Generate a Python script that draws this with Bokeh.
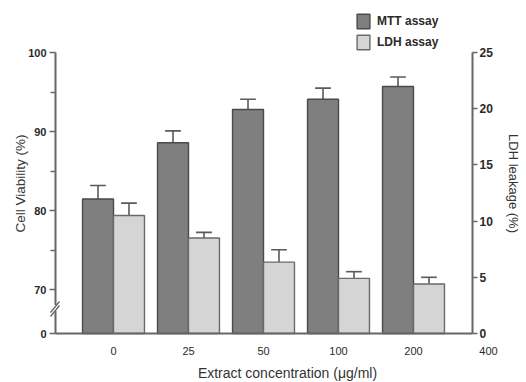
from bokeh.plotting import figure
from bokeh.models import (Range1d, LinearAxis, FixedTicker, Legend, LegendItem,
                          Label, Arrow, ColumnDataSource)
from bokeh.embed import file_html
from bokeh.resources import INLINE

# ---- data -------------------------------------------------------------
concentrations = ["0", "25", "50", "100", "200", "400"]   # x tick labels (µg/ml)
mtt_viability = [81.5, 88.6, 92.8, 94.1, 95.7]             # cell viability (%)
mtt_error = [1.7, 1.5, 1.3, 1.4, 1.2]
ldh_leakage = [10.5, 8.5, 6.35, 4.9, 4.4]                  # LDH leakage (%)
ldh_error = [1.1, 0.5, 1.1, 0.6, 0.6]

# ---- layout -----------------------------------------------------------
# The frame covers the whole canvas; the axes are pinned inside it with
# fixed_location so that titles, legend and break marks can sit around them.
W, H = 526, 382
AX_L, AX_R, AX_T, AX_B = 55, 472, 52, 333   # pixel positions of the axis lines
GROUP_PX = 75                               # pixels per concentration group
FIRST_C = 113                               # centre of the first group (px)
BAR_W = 0.413
CAP_W = 0.21

VIAB_FLOOR = 64.5                           # broken axis: this level is labelled "0"
VIAB_TOP = 100
LDH_TOP = 25

def xd(px):
    return (px - FIRST_C) / GROUP_PX

V_PER_PX = (VIAB_TOP - VIAB_FLOOR) / (AX_B - AX_T)
L_PER_PX = LDH_TOP / (AX_B - AX_T)

def vd(py):
    return VIAB_FLOOR + (AX_B - py) * V_PER_PX

def ld(py):
    return (AX_B - py) * L_PER_PX

# screen units for annotations (origin bottom-left of the canvas)
def sy(py):
    return H - py

MTT_FILL, MTT_LINE = "#7f7f7f", "#4a4a4a"
LDH_FILL, LDH_LINE = "#d5d5d5", "#6a6a6a"
ERR_COL = "#5a5a5a"
AXIS_COL = "#666666"
TXT = "#2a2a2a"
TITLE_COL = "#333333"
FONT = "Liberation Sans"

p = figure(width=W, height=H, output_backend="svg", toolbar_location=None,
           x_range=Range1d(xd(0), xd(W)), y_range=Range1d(vd(H), vd(0)),
           min_border=0, min_border_left=0, min_border_right=0,
           min_border_top=0, min_border_bottom=0,
           outline_line_color=None, background_fill_color="white",
           border_fill_color="white")
p.extra_y_ranges = {"ldh": Range1d(ld(H), ld(0))}
p.grid.visible = False

n = len(mtt_viability)
idx = list(range(n))

mtt_src = ColumnDataSource(dict(
    x=[i - BAR_W / 2 for i in idx], top=mtt_viability,
    up=[v + e for v, e in zip(mtt_viability, mtt_error)],
    c0=[i - BAR_W / 2 - CAP_W / 2 for i in idx],
    c1=[i - BAR_W / 2 + CAP_W / 2 for i in idx]))
ldh_src = ColumnDataSource(dict(
    x=[i + BAR_W / 2 for i in idx], top=ldh_leakage,
    up=[v + e for v, e in zip(ldh_leakage, ldh_error)],
    c0=[i + BAR_W / 2 - CAP_W / 2 for i in idx],
    c1=[i + BAR_W / 2 + CAP_W / 2 for i in idx]))

# error bars (upper half only), drawn first so the bars sit on top
for src, rng in ((mtt_src, "default"), (ldh_src, "ldh")):
    p.segment(x0="x", y0="top", x1="x", y1="up", source=src,
              line_color=ERR_COL, line_width=1.6, y_range_name=rng)
    p.segment(x0="c0", y0="up", x1="c1", y1="up", source=src,
              line_color=ERR_COL, line_width=1.6, y_range_name=rng)

mtt_r = p.vbar(x="x", top="top", bottom=VIAB_FLOOR, width=BAR_W, source=mtt_src,
               fill_color=MTT_FILL, line_color=MTT_LINE, line_width=1.4)
ldh_r = p.vbar(x="x", top="top", bottom=0, width=BAR_W, source=ldh_src,
               fill_color=LDH_FILL, line_color=LDH_LINE, line_width=1.4,
               y_range_name="ldh")

# ---- axes -------------------------------------------------------------
def style_axis(ax):
    ax.axis_line_color = AXIS_COL
    ax.axis_line_width = 2
    ax.major_tick_line_color = AXIS_COL
    ax.minor_tick_line_color = AXIS_COL
    ax.major_tick_line_width = 1.5
    ax.minor_tick_line_width = 1.5
    ax.major_tick_in = 0
    ax.minor_tick_in = 0
    ax.major_label_text_color = TXT
    ax.major_label_text_font = FONT

ly = p.yaxis[0]
style_axis(ly)
ly.fixed_location = xd(AX_L)
ly.bounds = (VIAB_FLOOR, VIAB_TOP)
ly.ticker = FixedTicker(ticks=[VIAB_FLOOR, 70, 80, 90, 100], minor_ticks=[75, 85, 95])
ly.major_label_overrides = {VIAB_FLOOR: "0"}
ly.major_tick_out = 6
ly.minor_tick_out = 5
ly.major_label_standoff = 3
ly.major_label_text_font_size = "11px"
ly.major_label_text_font_style = "bold"

ry = LinearAxis(y_range_name="ldh", ticker=FixedTicker(ticks=[0, 5, 10, 15, 20, 25]))
style_axis(ry)
ry.fixed_location = xd(AX_R)
ry.bounds = (0, LDH_TOP)
ry.major_tick_out = 5
ry.minor_tick_out = 0
ry.major_label_standoff = 2
ry.major_label_text_font_size = "12px"
ry.major_label_text_font_style = "bold"
p.add_layout(ry, "right")

# bottom: one axis for the baseline, one carrying the concentration labels
bx = p.xaxis[0]
style_axis(bx)
bx.fixed_location = VIAB_FLOOR
bx.bounds = (xd(AX_L), xd(AX_R))
bx.ticker = FixedTicker(ticks=[])
bx.major_tick_out = 0
bx.minor_tick_out = 0
bx.major_label_text_font_size = "0px"

lx = LinearAxis(ticker=FixedTicker(ticks=list(range(len(concentrations)))))
style_axis(lx)
lx.fixed_location = VIAB_FLOOR
lx.axis_line_color = None
lx.major_tick_out = 0
lx.minor_tick_out = 0
lx.major_label_standoff = 13
lx.major_label_text_font_size = "11px"
lx.major_label_overrides = {i: c for i, c in enumerate(concentrations)}
p.add_layout(lx, "below")

# axis titles
def title(px, py, text, angle=0.0, size="13px"):
    p.add_layout(Label(x=px, y=sy(py), x_units="screen", y_units="screen",
                       text=text, angle=angle, text_align="center",
                       text_baseline="middle", text_font=FONT, text_font_size=size,
                       text_color=TITLE_COL))

title(20, 183, "Cell Viability (%)", 1.5708, "13.5px")
title(513, 183, "LDH leakage (%)", -1.5708)
title(287, 372, "Extract concentration (\u03bcg/ml)", size="14px")

# axis break marks on the left axis
p.add_layout(Arrow(start=None, end=None, x_start=xd(AX_L), y_start=vd(304.5),
                   x_end=xd(AX_L), y_end=vd(310.5), line_color="white", line_width=4))
for off in (0, 4):
    p.add_layout(Arrow(start=None, end=None,
                       x_start=xd(50), y_start=vd(316 - off),
                       x_end=xd(59), y_end=vd(305 - off),
                       line_color=AXIS_COL, line_width=1.3))

# ---- legend -----------------------------------------------------------
LEG_H = 18 + 3 + 18
legend = Legend(items=[LegendItem(label="MTT assay", renderers=[mtt_r]),
                       LegendItem(label="LDH assay", renderers=[ldh_r])],
                location=(355, sy(12 + LEG_H)), orientation="vertical",
                glyph_width=16, glyph_height=18, label_height=18, spacing=3,
                label_standoff=6, padding=0, margin=0,
                border_line_color=None, background_fill_alpha=0,
                label_text_font=FONT, label_text_font_size="12px",
                label_text_font_style="bold", label_text_color=TXT)
p.add_layout(legend, "center")

open("out.html", "w").write(file_html(p, INLINE))
